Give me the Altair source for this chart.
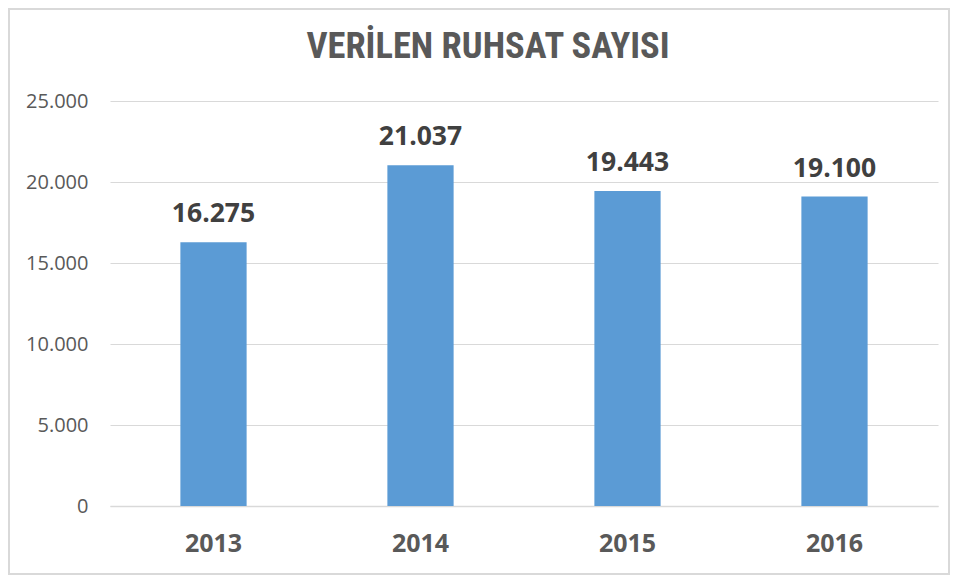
import altair as alt
import pandas as pd

years = ["2013", "2014", "2015", "2016"]
values = [16275, 21037, 19443, 19100]
labels = ["16.275", "21.037", "19.443", "19.100"]
y_ticks = [0, 5000, 10000, 15000, 20000, 25000]
title_text = "VERİLEN RUHSAT SAYISI"

df = pd.DataFrame({"year": years, "value": values, "label": labels})

W, H = 828, 405
PL, PT, PR, PB = 102, 93, 12, 69

base = alt.Chart(df)

x = alt.X("year:N", sort=years, title=None,
          scale=alt.Scale(paddingInner=0.68, paddingOuter=0.34),
          axis=alt.Axis(labelFont="Open Sans", labelFontWeight="bold", labelFontSize=25,
                        labelColor="#595959", labelPadding=25, ticks=False, grid=False,
                        domainColor="#d9d9d9", domainWidth=1.5, labelAngle=0))
y = alt.Y("value:Q", title=None,
          scale=alt.Scale(domain=[0, 25000]),
          axis=alt.Axis(values=y_ticks, labelExpr="replace(format(datum.value, ','), ',', '.')",
                        labelFont="Open Sans", labelFontSize=20, labelColor="#595959",
                        labelPadding=22, ticks=False, domain=False, grid=True,
                        gridColor="#d9d9d9", gridWidth=1))

bars = base.mark_bar(color="#5B9BD5").encode(x=x, y=y)
text = base.mark_text(dy=-20, baseline="alphabetic", font="Open Sans", fontWeight="bold",
                      fontSize=26.5, color="#404040").encode(x=x, y=y, text="label:N")

deco = alt.Chart(pd.DataFrame({"t": [title_text]}))
border = deco.mark_rect(fill=None, stroke="#d9d9d9", strokeWidth=2).encode(
    x=alt.value(-PL + 1), x2=alt.value(W + PR - 1),
    y=alt.value(-PT + 1), y2=alt.value(H + PB - 1))
title = deco.mark_text(font="Roboto Condensed, Roboto", fontWeight="bold", fontSize=36.5,
                       color="#595959", align="center", baseline="middle").encode(
    x=alt.value(378), y=alt.value(-54), text="t:N")

chart = alt.layer(border, bars, text, title).properties(
    width=W, height=H,
    autosize=alt.AutoSizeParams(type="none"),
    padding={"left": PL, "top": PT, "right": PR, "bottom": PB},
).configure_view(stroke=None)

chart.save("out.html", embed_options={"renderer": "svg", "actions": False})
